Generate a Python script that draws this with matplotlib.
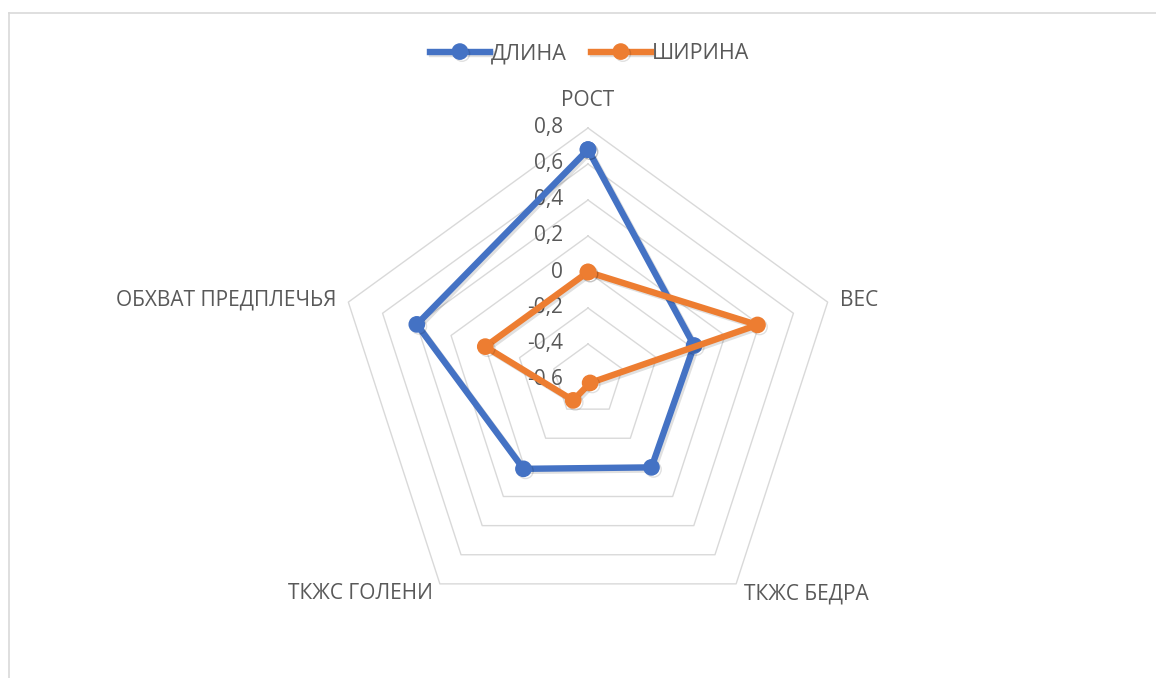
import numpy as np
import matplotlib
matplotlib.use("Agg")
import matplotlib.pyplot as plt
import matplotlib.patheffects as pe
from matplotlib.transforms import offset_copy
from matplotlib.lines import Line2D

plt.rcParams['font.family'] = ['Open Sans', 'DejaVu Sans']

categories = ["РОСТ", "ВЕС", "ТКЖС БЕДРА", "ТКЖС ГОЛЕНИ", "ОБХВАТ ПРЕДПЛЕЧЬЯ"]
dlina = [0.68, 0.02, 0.0, 0.01, 0.40]
shirina = [0.0, 0.39, -0.58, -0.46, 0.0]
series_names = ["ДЛИНА", "ШИРИНА"]
ring_values = [-0.4, -0.2, 0.0, 0.2, 0.4, 0.6, 0.8]
tick_values = [-0.6, -0.4, -0.2, 0.0, 0.2, 0.4, 0.6, 0.8]
r_min, r_max = -0.6, 0.8

blue = "#4472C4"
orange = "#ED7D31"
grid_col = "#D9D9D9"
text_col = "#595959"

fig = plt.figure(figsize=(11.56, 6.78), dpi=100)
ax = fig.add_axes([336 / 1156, 46 / 678, 504 / 1156, 504 / 678], projection="polar")
ax.set_theta_offset(np.pi / 2)
ax.set_theta_direction(-1)
ax.set_ylim(r_min, r_max)
ax.grid(False)
ax.spines['polar'].set_visible(False)
ax.set_xticks([])
ax.set_yticks([])
ax.patch.set_alpha(0)

n = len(categories)
angles = np.linspace(0, 2 * np.pi, n, endpoint=False)
closed = np.append(angles, angles[0])

# pentagon grid
for rv in ring_values:
    ax.plot(closed, [rv] * (n + 1), color=grid_col, lw=1.0, zorder=1, clip_on=False)

# radial tick labels
lab_tr = offset_copy(ax.transData, fig=fig, x=-25, y=0, units='dots')
for tv in tick_values:
    s = ("%.1f" % tv).replace(".", ",")
    if s in ("0,0", "-0,0"):
        s = "0"
    ax.text(0, tv, s, transform=lab_tr, ha='right', va='center',
            fontsize=15, color=text_col, zorder=2)

# category labels
offsets = [(0, 28, 'center', 'center'),
           (12, 2, 'left', 'center'),
           (8, -10, 'left', 'center'),
           (-7, -10, 'right', 'center'),
           (-12, 2, 'right', 'center')]
for ang, cat, (dx, dy, ha, va) in zip(angles, categories, offsets):
    tr = offset_copy(ax.transData, fig=fig, x=dx, y=dy, units='dots')
    ax.text(ang, r_max, cat, transform=tr, ha=ha, va=va,
            fontsize=15, color=text_col, clip_on=False)

shadow = [pe.SimpleLineShadow(offset=(1.5, -1.5), shadow_color='k', alpha=0.12), pe.Normal()]
for vals, col, name in [(dlina, blue, series_names[0]), (shirina, orange, series_names[1])]:
    ax.plot(closed, vals + vals[:1], color=col, lw=4.6, marker='o', markersize=11,
            label=name, zorder=4, clip_on=False, path_effects=shadow,
            solid_joinstyle='round')

leg = fig.legend(loc='upper center', bbox_to_anchor=(0.51, 0.965), ncol=2, frameon=False,
                 fontsize=15.5, handlelength=2.8, handletextpad=0.05, columnspacing=1.1)
for t in leg.get_texts():
    t.set_color(text_col)

# chart border (partial, as cropped)
fig.add_artist(Line2D([9 / 1156, 9 / 1156], [0, 1 - 13 / 678], color=grid_col, lw=1.2,
                      transform=fig.transFigure))
fig.add_artist(Line2D([9 / 1156, 1], [1 - 13 / 678, 1 - 13 / 678], color=grid_col, lw=1.2,
                      transform=fig.transFigure))

fig.savefig("out.png", dpi=100)
